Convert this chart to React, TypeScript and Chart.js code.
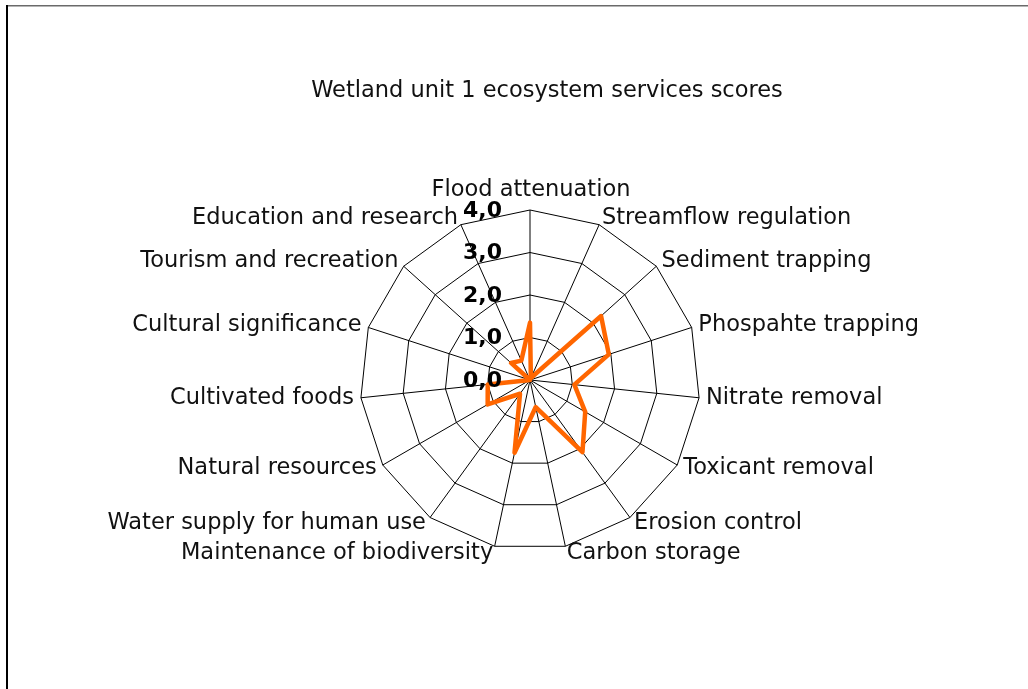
import React, { useEffect, useRef } from "react";
import { Chart, registerables } from "chart.js";

Chart.register(...registerables);

const chartTitle = "Wetland unit 1 ecosystem services scores";

const categories = [
  "Flood attenuation",
  "Streamflow regulation",
  "Sediment trapping",
  "Phospahte trapping",
  "Nitrate removal",
  "Toxicant removal",
  "Erosion control",
  "Carbon storage",
  "Maintenance of biodiversity",
  "Water supply for human use",
  "Natural resources",
  "Cultivated foods",
  "Cultural significance",
  "Tourism and recreation",
  "Education and research",
];

const scores = [1.35, 0.05, 2.25, 1.95, 1.05, 1.5, 2.1, 0.65, 1.75, 0.4, 1.15, 1.0, 0.0, 0.6, 0.5];

const tickValues = [0, 1, 2, 3, 4];
const tickLabels = ["0,0", "1,0", "2,0", "3,0", "4,0"];

const LABEL_FONT = "22.5px 'DejaVu Sans'";
const TITLE_FONT = "22.5px 'DejaVu Sans'";
const TICK_FONT = "bold 22px 'DejaVu Sans'";

const decorPlugin = {
  id: "decor",
  beforeDraw(chart: any) {
    const ctx = chart.ctx;
    ctx.save();
    ctx.fillStyle = "#ffffff";
    ctx.fillRect(0, 0, chart.width, chart.height);
    ctx.fillStyle = "#6a6a6a";
    ctx.fillRect(6, 5, chart.width - 6, 1.5);
    ctx.fillStyle = "#000000";
    ctx.fillRect(6, 5, 2, chart.height - 5);
    ctx.restore();
  },
  afterDraw(chart: any) {
    const ctx = chart.ctx;
    const scale = chart.scales.r;
    const n = categories.length;
    ctx.save();
    ctx.fillStyle = "#111111";
    // title
    ctx.font = TITLE_FONT;
    ctx.textAlign = "center";
    ctx.textBaseline = "middle";
    ctx.fillText(chartTitle, 547, 91);
    // point labels
    ctx.font = LABEL_FONT;
    categories.forEach((label, i) => {
      const angleDeg = (i * 360) / n;
      if (i === 0) {
        const p = scale.getPointPosition(0, scale.drawingArea + 14);
        ctx.textAlign = "center";
        ctx.textBaseline = "alphabetic";
        ctx.fillText(label, p.x + 1, p.y);
      } else {
        const p = scale.getPointPosition(i, scale.drawingArea + 7);
        ctx.textAlign = angleDeg < 180 ? "left" : "right";
        ctx.textBaseline = "middle";
        ctx.fillText(label, p.x, p.y);
      }
    });
    // tick labels
    ctx.fillStyle = "#000000";
    ctx.font = TICK_FONT;
    ctx.textAlign = "right";
    ctx.textBaseline = "middle";
    tickValues.forEach((v, i) => {
      const d = scale.getDistanceFromCenterForValue(v);
      ctx.fillText(tickLabels[i], scale.xCenter - 28, scale.yCenter - d + 1);
    });
    ctx.restore();
  },
};

export default function App() {
  const canvasRef = useRef<HTMLCanvasElement | null>(null);

  useEffect(() => {
    document.body.style.margin = "0";
    const canvas = canvasRef.current;
    if (!canvas) return;
    const chart = new Chart(canvas, {
      type: "radar",
      data: {
        labels: categories,
        datasets: [
          {
            label: "Scores",
            data: scores,
            borderColor: "#FF6600",
            borderWidth: 4.5,
            borderJoinStyle: "round",
            pointRadius: 0,
            pointHoverRadius: 0,
            fill: false,
            tension: 0,
          },
        ],
      },
      options: {
        responsive: false,
        animation: false,
        devicePixelRatio: 1,
        layout: { padding: { left: 360, right: 328, top: 210, bottom: 139 } },
        plugins: {
          legend: { display: false },
          title: { display: false },
          tooltip: { enabled: false },
        },
        scales: {
          r: {
            min: 0,
            max: 4,
            ticks: { stepSize: 1, display: false },
            grid: { color: "#000000", lineWidth: 1, circular: false },
            angleLines: { color: "#000000", lineWidth: 1 },
            pointLabels: { display: false },
          },
        },
      },
      plugins: [decorPlugin],
    });
    return () => chart.destroy();
  }, []);

  return (
    <div style={{ width: 1028, height: 689, overflow: "hidden" }}>
      <canvas ref={canvasRef} width={1028} height={689} style={{ display: "block", width: 1028, height: 689 }} />
    </div>
  );
}
